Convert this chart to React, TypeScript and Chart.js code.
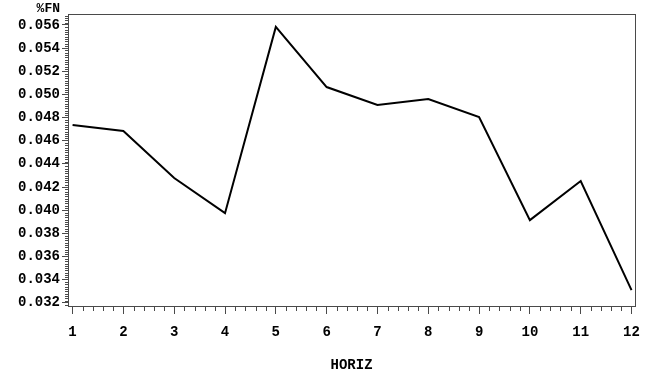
import React, { useEffect, useRef } from "react";
import { Chart, registerables } from "chart.js";

Chart.register(...registerables);

const horizCategories = [1, 2, 3, 4, 5, 6, 7, 8, 9, 10, 11, 12];
const fnValues = [0.04736, 0.04684, 0.04278, 0.03975, 0.05583, 0.05064, 0.04909, 0.0496, 0.04805, 0.03915, 0.04252, 0.0331];
const yTickValues = [0.032, 0.034, 0.036, 0.038, 0.04, 0.042, 0.044, 0.046, 0.048, 0.05, 0.052, 0.054, 0.056];
const xTickValues = [1, 2, 3, 4, 5, 6, 7, 8, 9, 10, 11, 12];
const yAxisLabel = "%FN";
const xAxisLabel = "HORIZ";

const FONT = "'Liberation Mono', 'Courier New', monospace";
const FRAME = "#4a4a4a";

const framePlugin = {
  id: "sasFrame",
  afterDraw(chart: any) {
    const { ctx, chartArea } = chart;
    const xs = chart.scales.x;
    const ys = chart.scales.y;
    ctx.save();
    ctx.strokeStyle = FRAME;
    ctx.lineWidth = 1;
    ctx.strokeRect(
      Math.round(chartArea.left) + 0.5,
      Math.round(chartArea.top) + 0.5,
      Math.round(chartArea.right - chartArea.left),
      Math.round(chartArea.bottom - chartArea.top)
    );
    // minor x ticks
    ctx.beginPath();
    const bottom = Math.round(chartArea.bottom) + 1;
    for (let i = 0; i < xTickValues.length - 1; i++) {
      for (let k = 1; k < 5; k++) {
        const v = xTickValues[i] + k * 0.2;
        const px = Math.round(xs.getPixelForValue(v)) + 0.5;
        ctx.moveTo(px, bottom);
        ctx.lineTo(px, bottom + 4);
      }
    }
    // minor y ticks
    const left = Math.round(chartArea.left);
    for (let i = -1; i < yTickValues.length; i++) {
      for (let k = 1; k < 10; k++) {
        const v = (i < 0 ? yTickValues[0] - 0.002 : yTickValues[i]) + k * 0.0002;
        if (v < ys.min || v > ys.max) continue;
        const py = Math.round(ys.getPixelForValue(v)) + 0.5;
        ctx.moveTo(left - 3, py);
        ctx.lineTo(left, py);
      }
    }
    ctx.stroke();
    // y axis label
    ctx.fillStyle = "#000";
    ctx.font = "bold 13px " + FONT;
    ctx.textAlign = "right";
    ctx.textBaseline = "middle";
    ctx.fillText(yAxisLabel, left - 8, 9);
    ctx.restore();
  },
};

export default function App() {
  const ref = useRef<HTMLCanvasElement | null>(null);
  useEffect(() => {
    if (!ref.current) return;
    const chart = new Chart(ref.current, {
      type: "line",
      data: {
        datasets: [
          {
            data: horizCategories.map((h, i) => ({ x: h, y: fnValues[i] })),
            borderColor: "#000",
            borderWidth: 2,
            pointRadius: 0,
            tension: 0,
            fill: false,
          },
        ],
      },
      options: {
        responsive: false,
        animation: false,
        layout: { padding: { top: 14, right: 13, left: 0, bottom: 0 } },
        plugins: { legend: { display: false }, tooltip: { enabled: false } },
        scales: {
          x: {
            type: "linear",
            min: 0.91,
            max: 12.07,
            afterBuildTicks: (s: any) => {
              s.ticks = xTickValues.map((v) => ({ value: v }));
            },
            afterFit: (s: any) => {
              s.height = 71;
            },
            border: { display: false },
            grid: { drawOnChartArea: false, drawTicks: true, tickLength: 8, color: FRAME },
            ticks: {
              color: "#000",
              font: { family: FONT, size: 14, weight: "bold" },
              padding: 10,
              maxRotation: 0,
              autoSkip: false,
              callback: (v: any) => String(v),
            },
            title: {
              display: true,
              text: xAxisLabel,
              color: "#000",
              font: { family: FONT, size: 14, weight: "bold" },
              padding: { top: 0, bottom: 3 },
            },
          },
          y: {
            type: "linear",
            min: 0.03173,
            max: 0.05695,
            afterBuildTicks: (s: any) => {
              s.ticks = yTickValues.map((v) => ({ value: v }));
            },
            afterFit: (s: any) => {
              s.width = 68;
            },
            border: { display: false },
            grid: { drawOnChartArea: false, drawTicks: true, tickLength: 6, color: FRAME },
            ticks: {
              color: "#000",
              font: { family: FONT, size: 14, weight: "bold" },
              padding: 2,
              autoSkip: false,
              callback: (v: any) => Number(v).toFixed(3),
            },
          },
        },
      },
      plugins: [framePlugin],
    } as any);
    return () => chart.destroy();
  }, []);
  return (
    <div style={{ position: "fixed", left: 0, top: 0, width: 650, height: 377, background: "#fff" }}>
      <canvas ref={ref} width={650} height={377} />
    </div>
  );
}
